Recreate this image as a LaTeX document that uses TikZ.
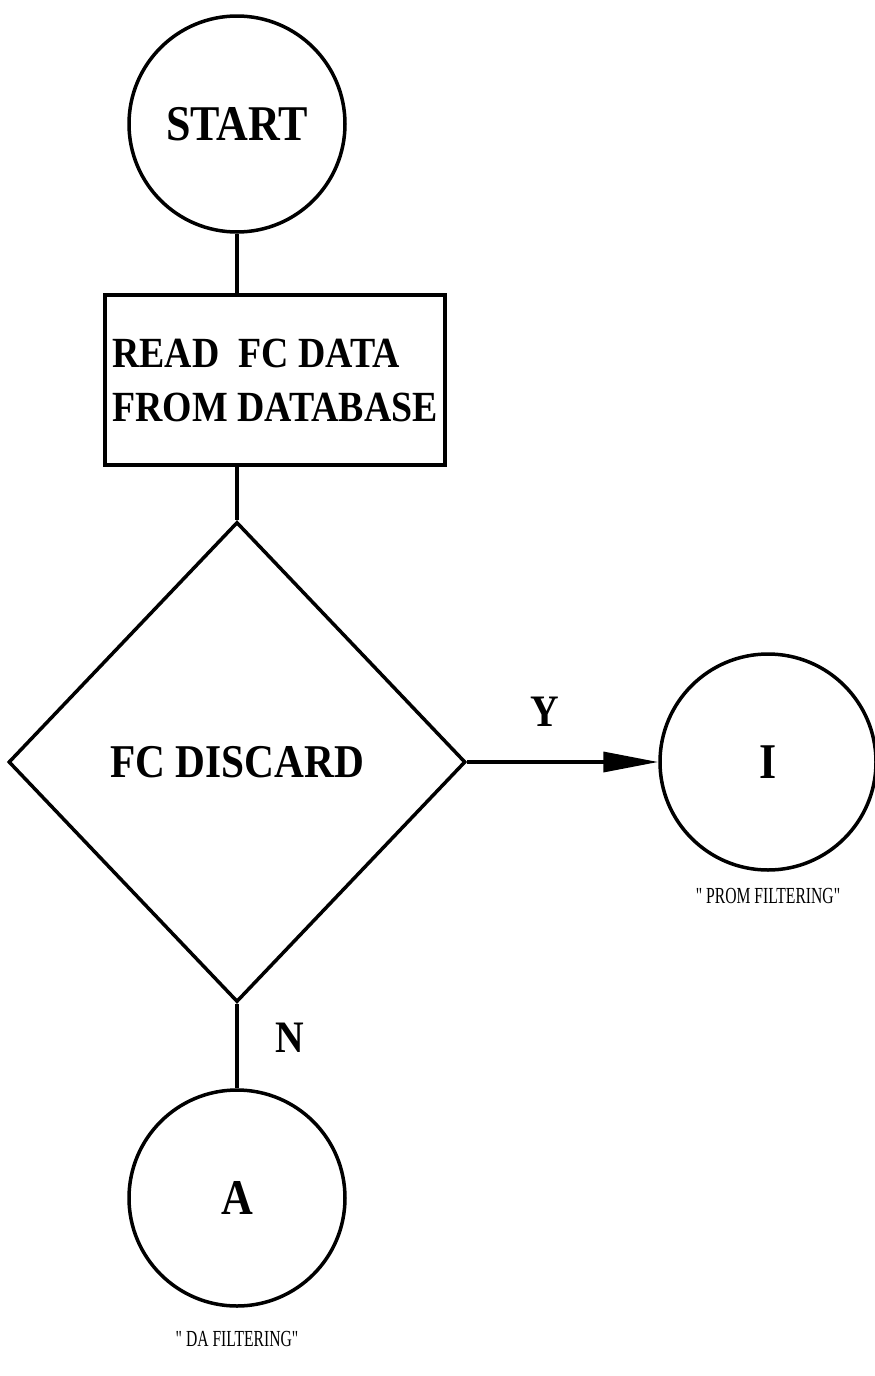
\documentclass[tikz,border=0pt]{standalone}
\usepackage{fontspec}
\setmainfont{Liberation Serif}
\newfontfamily\headfont[FakeStretch=0.88]{Liberation Serif}
\newfontfamily\condfont[FakeStretch=0.68]{Liberation Serif}
\usetikzlibrary{shapes.geometric, arrows.meta}
\tikzstyle{startstop} = [
    circle,
    minimum size=216pt,
    line width=3.5pt,
    draw=black,
    font=\headfont\fontsize{50}{54}\selectfont\bfseries
]
\tikzstyle{process} = [
    rectangle,
    minimum width=340pt,
    minimum height=170pt,
    inner sep=3pt,
    align=left,
    line width=3.5pt,
    draw=black,
    font=\headfont\fontsize{43}{54}\selectfont\bfseries
]
\tikzstyle{decision} = [
    diamond,
    minimum width=457pt,
    minimum height=480pt,
    line width=3.5pt,
    draw=black,
    font=\headfont\fontsize{47}{50}\selectfont\bfseries
]
\tikzstyle{branch} = [font=\headfont\fontsize{45}{48}\selectfont\bfseries]
\tikzstyle{caption} = [font=\condfont\fontsize{23}{26}\selectfont]
\tikzstyle{line} = [line width=3.5pt]
\tikzstyle{arrow} = [line width=3.5pt,-{Triangle[length=55pt,width=20pt]}]

\begin{document}
\begin{tikzpicture}[x=1pt, y=-1pt]
\useasboundingbox (0,0) rectangle (875,1376);

\node (start) [startstop] at (237,124) {START};

\node (read) [process, node distance=256pt, below of=start, xshift=38pt]
{READ\ \ FC DATA\\FROM DATABASE};

\node (discard) [decision, node distance=382pt, below of=read, xshift=-38pt]
{FC DISCARD};

\node (prom) [startstop, node distance=531pt, right of=discard] {I};

\node (da) [startstop, node distance=436pt, below of=discard] {A};

\node (promcap) [caption, node distance=134pt, below of=prom]
{" PROM FILTERING"};

\node (dacap) [caption, node distance=141pt, below of=da]
{" DA FILTERING"};

\node (yes) [branch] at (545,712) {Y};
\node (no) [branch] at (290,1038) {N};

\draw [line] (start.south) -- (start.south |- read.north);
\draw [line] (discard.north |- read.south) -- (discard.north);
\draw [arrow] (discard.east) -- (prom.west);
\draw [line] (discard.south) -- (da.north);

\end{tikzpicture}
\end{document}
